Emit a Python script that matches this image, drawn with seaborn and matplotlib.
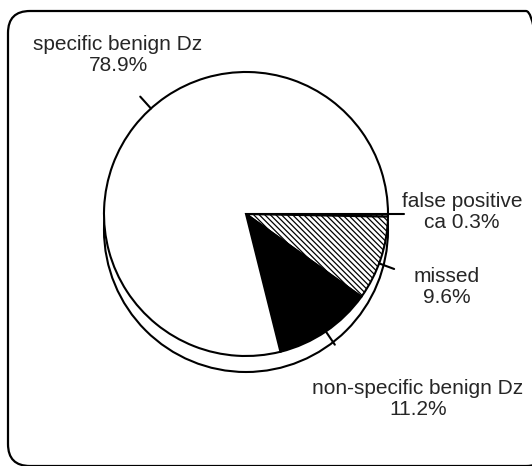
import numpy as np
import matplotlib
matplotlib.use("Agg")
import matplotlib.pyplot as plt
from matplotlib.patches import Circle, FancyBboxPatch
import seaborn as sns

# data
labels = ["false positive\nca 0.3%", "missed\n9.6%", "non-specific benign Dz\n11.2%", "specific benign Dz\n78.9%"]
values = [0.3, 9.6, 11.2, 78.9]
colors = ["white", "white", "black", "white"]
hatches = ["\\\\\\\\\\\\", "\\\\\\\\\\\\", "", ""]

sns.set_theme(style="white")
plt.rcParams["font.family"] = ["Liberation Sans", "DejaVu Sans"]
plt.rcParams["hatch.linewidth"] = 0.9

W, H = 532, 466
fig = plt.figure(figsize=(W / 100, H / 100), dpi=100)
ax = fig.add_axes([0, 0, 1, 1])

cx, cy, r, depth = 246, H - 214, 142, 16

# rounded frame
frame = FancyBboxPatch((8, 0), 540, H - 11, boxstyle="round,pad=0,rounding_size=22",
                       fc="none", ec="black", lw=1.6)
ax.add_patch(frame)

# pie base (thickness)
ax.add_patch(Circle((cx, cy - depth), r, fc="white", ec="black", lw=1.5, zorder=1))

wedges, _ = ax.pie(values, colors=colors, startangle=0, counterclock=False,
                   center=(cx, cy), radius=r, frame=True,
                   wedgeprops=dict(edgecolor="black", linewidth=1.5))
for w, h in zip(wedges, hatches):
    w.set_hatch(h)
    w.set_zorder(2)
ax.set_xlim(0, W)
ax.set_ylim(0, H)
ax.set_aspect("equal")
ax.axis("off")

# label ticks and texts
tick_shift = [0, 2, 0, 10]
text_pos = [(462, H - 212), (447, H - 287), (418, H - 399), (118, H - 55)]
for w, shift, lab, (tx, ty) in zip(wedges, tick_shift, labels, text_pos):
    ang = np.deg2rad((w.theta1 + w.theta2) / 2 - shift)
    x0, y0 = cx + r * np.cos(ang), cy + r * np.sin(ang)
    x1, y1 = cx + (r + 16) * np.cos(ang), cy + (r + 16) * np.sin(ang)
    if lab.startswith("false"):
        x0, y0, x1, y1 = cx + r, cy, cx + r + 16, cy
    ax.plot([x0, x1], [y0, y1], color="black", lw=1.5, zorder=3)
    ax.text(tx, ty, lab, ha="center", va="center", fontsize=15, linespacing=1.15)

fig.savefig("out.png", dpi=100)
